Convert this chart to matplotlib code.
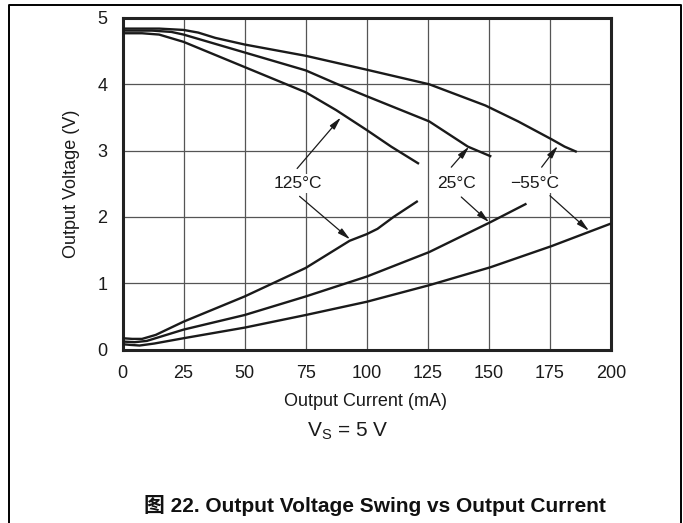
import matplotlib
matplotlib.use("Agg")
import matplotlib.pyplot as plt
from matplotlib.lines import Line2D

plt.rcParams["font.family"] = ["Liberation Sans", "Noto Sans CJK SC", "DejaVu Sans"]

# Source (high output) curves, Output Voltage vs Output Current
src_m55_x = [0, 15, 25, 31, 38, 50, 75, 100, 125.6, 148.6, 162, 175.7, 181, 186]
src_m55_y = [4.84, 4.84, 4.82, 4.78, 4.70, 4.60, 4.43, 4.22, 4.00, 3.68, 3.44, 3.17, 3.06, 2.98]
src_25_x = [0, 12, 20, 25, 50, 75, 87.5, 100, 125.6, 141.4, 151]
src_25_y = [4.81, 4.81, 4.79, 4.75, 4.48, 4.21, 4.01, 3.82, 3.44, 3.06, 2.91]
src_125_x = [0, 8, 15, 25, 50, 75, 87.5, 100, 110, 121.4]
src_125_y = [4.77, 4.77, 4.75, 4.64, 4.26, 3.88, 3.61, 3.31, 3.06, 2.80]

# Sink (low output) curves
snk_125_x = [0, 4, 8, 13.6, 25, 50, 75, 93, 100, 104.4, 111, 120.9]
snk_125_y = [0.17, 0.16, 0.16, 0.22, 0.42, 0.80, 1.23, 1.64, 1.74, 1.82, 2.00, 2.24]
snk_25_x = [0, 5, 10, 25, 50, 75, 100, 125.6, 150.6, 165.4]
snk_25_y = [0.12, 0.11, 0.13, 0.30, 0.52, 0.80, 1.10, 1.47, 1.92, 2.20]
snk_m55_x = [0, 3, 7, 13, 25, 50, 75, 100, 125.6, 150.6, 175.7, 200]
snk_m55_y = [0.08, 0.07, 0.06, 0.09, 0.17, 0.33, 0.52, 0.72, 0.97, 1.24, 1.56, 1.90]

labels = ["125°C", "25°C", "\u221255°C"]
label_xy = [(72, 2.51), (136.8, 2.51), (168.9, 2.51)]
# (tail, head) pairs for the arrows of each label
arrows_up = [((71.5, 2.73), (89.4, 3.50)), ((134.6, 2.75), (141.9, 3.06)), ((171.6, 2.75), (178.2, 3.07))]
arrows_dn = [((72.5, 2.31), (93.2, 1.66)), ((138.7, 2.30), (150.1, 1.92)), ((175.0, 2.32), (191.0, 1.79))]

x_ticks = [0, 25, 50, 75, 100, 125, 150, 175, 200]
y_ticks = [0, 1, 2, 3, 4, 5]

fig = plt.figure(figsize=(6.83, 5.23), dpi=100)
ax = fig.add_axes([122.5 / 683, (523 - 349.5) / 523, (611 - 122.5) / 683, (349.5 - 18) / 523])

for xs, ys in [(src_m55_x, src_m55_y), (src_25_x, src_25_y), (src_125_x, src_125_y),
               (snk_125_x, snk_125_y), (snk_25_x, snk_25_y), (snk_m55_x, snk_m55_y)]:
    ax.plot(xs, ys, color="#1a1a1a", lw=1.7, solid_capstyle="butt",
            solid_joinstyle="round", zorder=3)

for lab, (lx, ly) in zip(labels, label_xy):
    ax.text(lx, ly, lab, ha="center", va="center", fontsize=12.5, color="#1a1a1a",
            bbox=dict(facecolor="white", edgecolor="none", pad=1.5), zorder=4)

for tail, head in arrows_up + arrows_dn:
    ax.annotate("", xy=head, xytext=tail,
                arrowprops=dict(arrowstyle="-|>,head_length=0.75,head_width=0.18",
                                color="#1a1a1a", lw=0.9, shrinkA=0, shrinkB=0),
                zorder=5)

ax.set_xlim(0, 200)
ax.set_ylim(0, 5)
ax.set_xticks(x_ticks)
ax.set_yticks(y_ticks)
ax.tick_params(axis="x", length=0, labelsize=13, pad=11.5, colors="#1a1a1a")
ax.tick_params(axis="y", length=0, labelsize=13, pad=11, colors="#1a1a1a")
ax.grid(True, color="#555555", lw=0.9)
ax.set_axisbelow(True)
for sp in ax.spines.values():
    sp.set_linewidth(2.2)
    sp.set_color("#222222")

fig.text(366 / 683, 1 - 401 / 523, "Output Current (mA)", ha="center", va="center",
         fontsize=13, color="#1a1a1a")
fig.text(72 / 683, 1 - 184 / 523, "Output Voltage (V)", ha="center", va="center",
         rotation=90, fontsize=13, color="#1a1a1a")
fig.text(348 / 683, 1 - 431 / 523, r"V$_\mathregular{S}$ = 5 V", ha="center", va="center",
         fontsize=15, color="#1a1a1a")
fig.text(375 / 683, 1 - 506 / 523, "图 22. Output Voltage Swing vs Output Current",
         ha="center", va="center", fontsize=15, fontweight="bold", color="#111111")

# outer frame
fx = [9 / 683, 9 / 683, 681 / 683, 681 / 683]
fy = [0, 1 - 5 / 523, 1 - 5 / 523, 0]
fig.add_artist(Line2D(fx, fy, transform=fig.transFigure, color="black", lw=1.4))

fig.savefig("out.png", dpi=100)
